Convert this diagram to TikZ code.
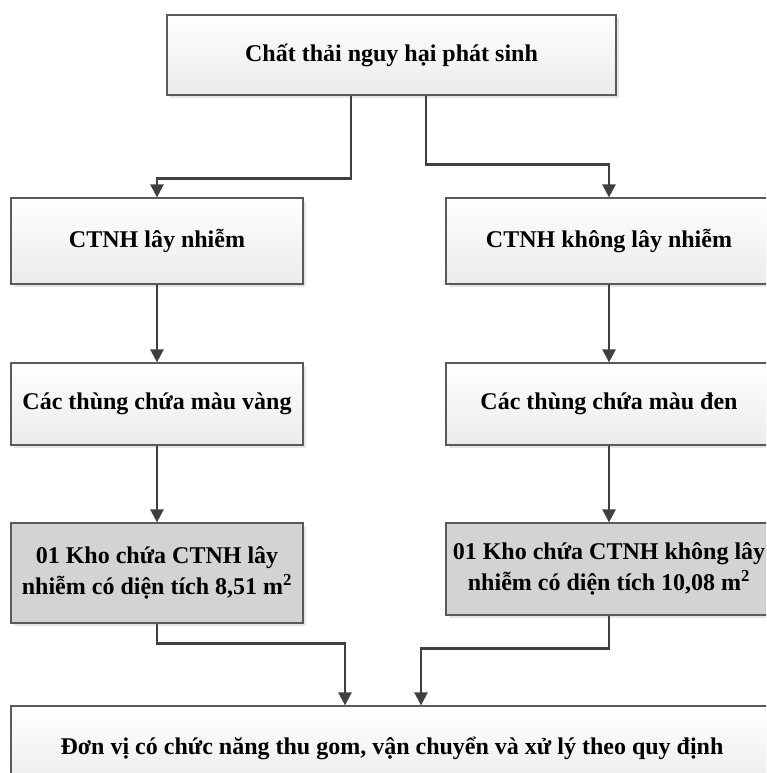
\documentclass[tikz,border=0pt]{standalone}
\usepackage{fontspec}
\setmainfont{Liberation Serif}
\usetikzlibrary{arrows.meta,shadows}

\definecolor{vien}{HTML}{5A5A5A}
\definecolor{duong}{HTML}{404040}
\definecolor{nen}{HTML}{EBEBEB}
\definecolor{xam}{HTML}{D3D3D3}

\tikzset{
 hop/.style={draw=vien,line width=1.2pt,align=center,inner sep=2pt,
   font=\fontsize{24}{31}\selectfont\bfseries,
   drop shadow={shadow xshift=3pt,shadow yshift=-3pt,fill=black!10,opacity=1}},
 khoi/.style={hop,top color=white,bottom color=nen},
 khoikho/.style={hop,fill=xam},
 noi/.style={draw=duong,line width=2.5pt,->}
}

\begin{document}
\begin{tikzpicture}[x=1pt,y=-1pt,>={Triangle[length=13pt,width=13pt]}]
 \clip (0,0) rectangle (766,773);

 \node[khoi,minimum width=449,minimum height=80] (nguon) at (391.5,55) {Chất thải nguy hại phát sinh};

 \node[khoi,minimum width=292,minimum height=86] (ln) at (157,241) {CTNH lây nhiễm};
 \node[khoi,minimum width=326,minimum height=86] (kln) at (609,241) {CTNH không lây nhiễm};

 \node[khoi,minimum width=292,minimum height=82] (vang) at (157,404) {Các thùng chứa màu vàng};
 \node[khoi,minimum width=326,minimum height=82] (den) at (609,404) {Các thùng chứa màu đen};

 \node[khoikho,minimum width=292,minimum height=100] (kho1) at (157,573) {01 Kho chứa CTNH lây\\nhiễm có diện tích 8,51 m\textsuperscript{2}};
 \node[khoikho,minimum width=326,minimum height=92] (kho2) at (609,569) {01 Kho chứa CTNH không lây\\nhiễm có diện tích 10,08 m\textsuperscript{2}};

 \node[khoi,minimum width=762,minimum height=84] (dv) at (392,748) {Đơn vị có chức năng thu gom, vận chuyển và xử lý theo quy định};

 \draw[noi] ([xshift=-40.5pt]nguon.south) -- ++(0,83) -| (ln);
 \draw[noi] ([xshift=34.5pt]nguon.south) -- ++(0,69) -| (kln);
 \draw[noi] (ln) -- (vang);
 \draw[noi] (kln) -- (den);
 \draw[noi] (vang) -- (kho1);
 \draw[noi] (den) -- (kho2);
 \draw[noi] (kho1.south) -- ++(0,20) -| ([xshift=-47pt]dv.north);
 \draw[noi] (kho2.south) -- ++(0,33) -| ([xshift=29pt]dv.north);
\end{tikzpicture}
\end{document}
